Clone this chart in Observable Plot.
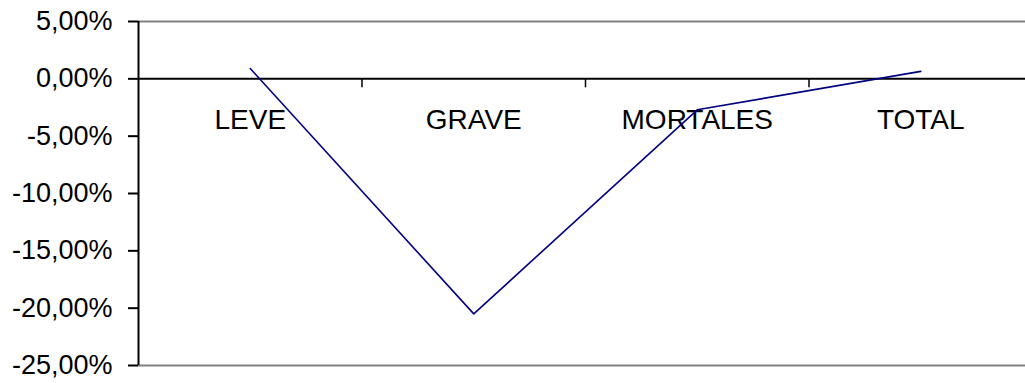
<!DOCTYPE html>
<html>
<head>
<meta charset="utf-8">
<script src="https://cdn.jsdelivr.net/npm/d3@7"></script>
<script src="https://cdn.jsdelivr.net/npm/@observablehq/plot@0.6"></script>
<style>
  html, body { margin: 0; padding: 0; background: #fff; overflow: hidden; }
  #chart svg { display: block; }
</style>
</head>
<body>
<div id="chart"></div>
<script>
const categories = ["LEVE", "GRAVE", "MORTALES", "TOTAL"];
const values = [0.9, -20.5, -2.7, 0.65]; // percent
const yTicks = [5, 0, -5, -10, -15, -20, -25];

const data = categories.map((c, i) => ({cat: c, idx: i + 0.5, value: values[i]}));
const boundaries = categories.slice(1).map((c, i) => i + 1);
const fmt = d => d.toFixed(2).replace(".", ",") + "%";

const chart = Plot.plot({
  width: 1025,
  height: 383,
  marginTop: 21,
  marginBottom: 18,
  marginLeft: 138,
  marginRight: -7,
  style: {fontFamily: "'Liberation Sans', Arial, sans-serif", background: "#fff"},
  x: {domain: [0, categories.length], axis: null},
  y: {domain: [-25, 5], ticks: yTicks, tickFormat: fmt},
  marks: [
    Plot.ruleY([5, -25], {stroke: "#808080", strokeWidth: 2}),
    Plot.ruleY([0], {stroke: "#000", strokeWidth: 2}),
    Plot.ruleX(boundaries, {x: d => d, y1: 0, y2: 0, insetBottom: -9, stroke: "#000", strokeWidth: 1.5}),
    Plot.ruleX([0], {stroke: "#000", strokeWidth: 2}),
    Plot.axisY({ticks: yTicks, tickFormat: fmt, tickSize: 10, tickPadding: 16, fontSize: 27, stroke: "#000", strokeWidth: 2, fill: "#000", label: null}),
    Plot.text(data, {x: "idx", y: 0, text: "cat", dy: 41, fontSize: 28, fill: "#000", lineAnchor: "middle"}),
    Plot.line(data, {x: "idx", y: "value", stroke: "#000080", strokeWidth: 1.6})
  ]
});
document.getElementById("chart").appendChild(chart);
</script>
</body>
</html>
